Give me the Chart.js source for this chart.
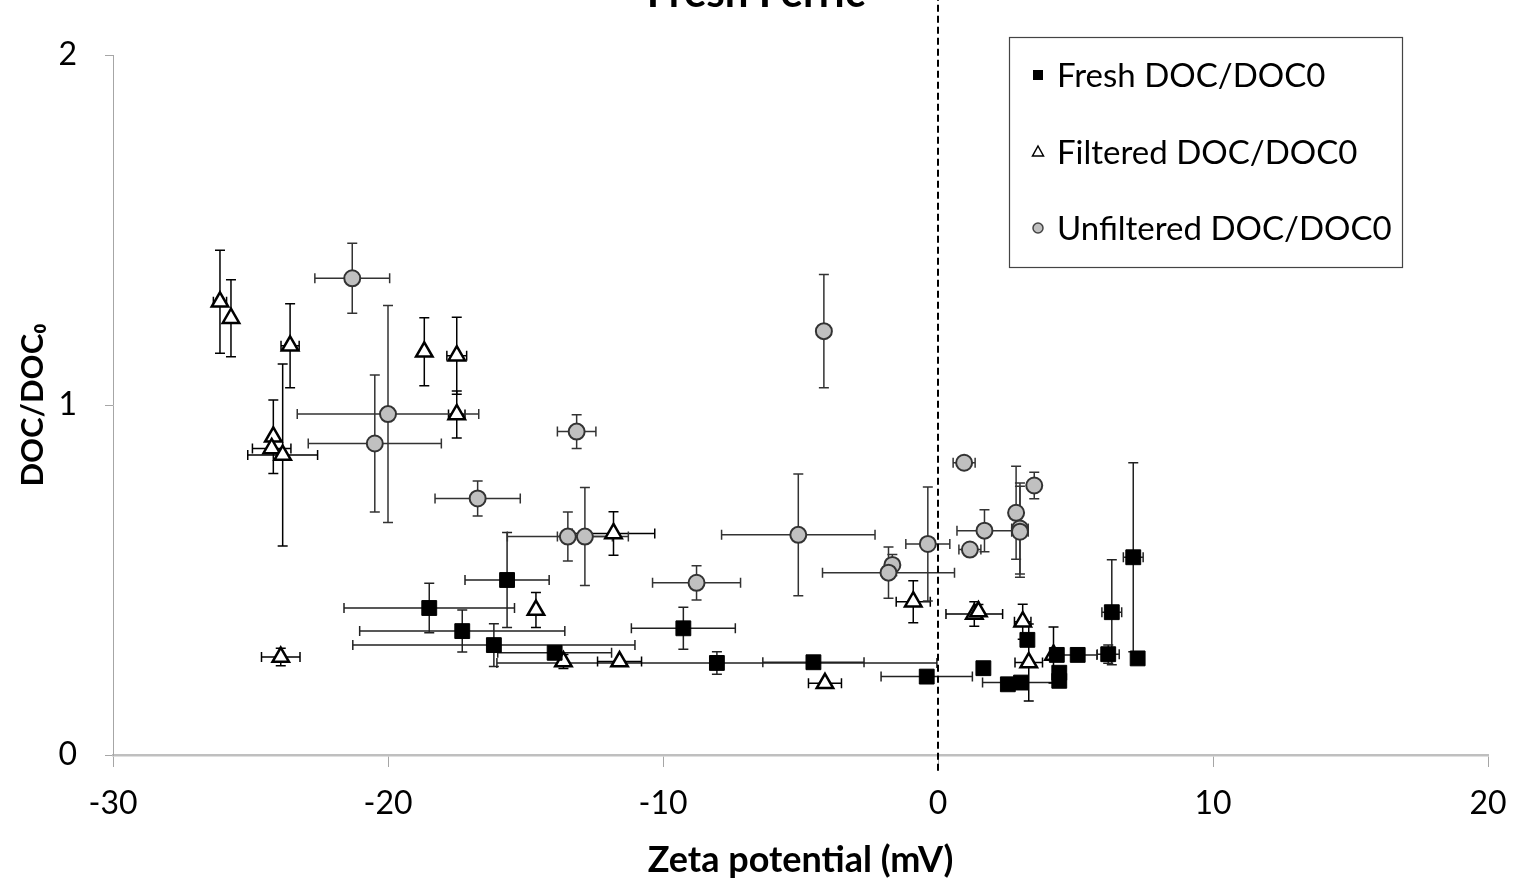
<!DOCTYPE html>
<html lang="en">
<head>
<meta charset="UTF-8">
<title>Fresh Ferric</title>
<style>
  html, body { margin: 0; padding: 0; background: #fff; overflow: hidden; }
  #wrap { width: 1513px; height: 878px; position: relative; }
</style>
</head>
<body>
<div id="wrap">
  <canvas id="myChart" width="1513" height="878"></canvas>
</div>
<script src="https://cdn.jsdelivr.net/npm/chart.js@4.4.1/dist/chart.umd.min.js"></script>
<script>
// Fresh DOC/DOC0 (black squares)
var freshX    = [-18.5, -17.3, -16.15, -15.67, -13.94, -9.26, -8.04, -4.53, -0.41, 1.65, 2.54, 3.02, 3.25, 4.32, 4.41, 4.41, 5.08, 6.19, 6.32, 7.1, 7.26];
var freshY    = [0.42, 0.354, 0.314, 0.50, 0.292, 0.362, 0.263, 0.265, 0.224, 0.248, 0.202, 0.207, 0.329, 0.286, 0.235, 0.212, 0.286, 0.288, 0.408, 0.565, 0.276];
var freshXErr = [3.1, 3.73, 5.13, 1.53, 2.07, 1.89, 8.0, 1.84, 1.66, 0, 0, 1.4, 0, 0, 0, 0, 0.7, 0.4, 0.36, 0.36, 0];
var freshYErr = [0.071, 0.06, 0.061, 0.136, 0.015, 0.06, 0.032, 0, 0.012, 0, 0, 0, 0, 0, 0, 0, 0, 0.026, 0.15, 0.27, 0];

// Filtered DOC/DOC0 (open triangles)
var filtX    = [-26.11, -25.71, -23.56, -18.68, -17.5, -17.5, -24.17, -24.23, -23.83, -11.8, -14.62, -13.62, -11.58, -23.9, -4.11, -0.9, 1.32, 1.47, 3.08, 3.3, 4.2];
var filtY    = [1.295, 1.248, 1.169, 1.152, 1.141, 0.973, 0.909, 0.876, 0.857, 0.633, 0.414, 0.267, 0.267, 0.28, 0.205, 0.438, 0.403, 0.41, 0.381, 0.264, 0.286];
var filtXErr = [0.24, 0, 0.33, 0, 0.36, 0.3, 0, 0.7, 1.27, 1.5, 0, 0, 0.8, 0.7, 0.6, 0.62, 1.03, 0, 0.3, 0.5, 0];
var filtYErr = [0.147, 0.11, 0.12, 0.097, 0.11, 0.067, 0.105, 0, 0.26, 0.062, 0.05, 0.02, 0, 0.025, 0, 0.06, 0.035, 0.02, 0.05, 0.11, 0.08];

// Unfiltered DOC/DOC0 (grey circles)
var unfX    = [-21.3, -20.0, -20.48, -16.74, -13.14, -13.46, -12.84, -8.78, -5.08, -4.15, -1.66, -1.8, -0.37, 0.95, 1.16, 1.69, 2.84, 2.98, 2.98, 3.5];
var unfY    = [1.362, 0.974, 0.89, 0.733, 0.924, 0.624, 0.624, 0.492, 0.629, 1.211, 0.543, 0.521, 0.603, 0.835, 0.587, 0.641, 0.692, 0.647, 0.638, 0.77];
var unfXErr = [1.36, 3.3, 2.42, 1.55, 0.7, 2.2, 1.0, 1.6, 2.79, 0, 0, 2.4, 0.8, 0.4, 0.4, 1.0, 0, 0.3, 0.3, 0];
var unfYErr = [0.1, 0.31, 0.196, 0.05, 0.048, 0.07, 0.14, 0.049, 0.174, 0.162, 0.03, 0.073, 0.163, 0, 0, 0.06, 0.133, 0.13, 0.13, 0.038];

// dashed line at zero potential
var zeroLineX = [0, 0];
var zeroLineY = [-0.045, 2.16];

var xTicks = [-30, -20, -10, 0, 10, 20];
var yTicks = [0, 1, 2];

var FONT = "Lato, 'Open Sans', sans-serif";

function pts(xs, ys) {
    return xs.map(function (v, i) { return { x: v, y: ys[i] }; });
}

// error bars drawn under the markers, through the chart scales
var errorBars = {
    id: 'errorBars',
    beforeDatasetsDraw: function (chart) {
        var ctx = chart.ctx, sx = chart.scales.x, sy = chart.scales.y;
        chart.data.datasets.forEach(function (ds) {
            if (!ds.xErr) return;
            ctx.save();
            ctx.strokeStyle = ds.errColor;
            ctx.lineWidth = 1.5;
            ds.data.forEach(function (p, j) {
                var px = sx.getPixelForValue(p.x), py = sy.getPixelForValue(p.y);
                var ex = ds.xErr[j], ey = ds.yErr[j], c = 5;
                ctx.beginPath();
                if (ex) {
                    var a = sx.getPixelForValue(p.x - ex), b = sx.getPixelForValue(p.x + ex);
                    ctx.moveTo(a, py); ctx.lineTo(b, py);
                    ctx.moveTo(a, py - c); ctx.lineTo(a, py + c);
                    ctx.moveTo(b, py - c); ctx.lineTo(b, py + c);
                }
                if (ey) {
                    var t = sy.getPixelForValue(p.y + ey), u = sy.getPixelForValue(p.y - ey);
                    ctx.moveTo(px, t); ctx.lineTo(px, u);
                    ctx.moveTo(px - c, t); ctx.lineTo(px + c, t);
                    ctx.moveTo(px - c, u); ctx.lineTo(px + c, u);
                }
                ctx.stroke();
            });
            ctx.restore();
        });
    }
};

// cut-off title and boxed legend
var extras = {
    id: 'extras',
    afterDraw: function (chart) {
        var ctx = chart.ctx;
        ctx.save();
        ctx.fillStyle = '#000';
        ctx.font = 'bold 42px ' + FONT;
        ctx.textAlign = 'center';
        ctx.textBaseline = 'alphabetic';
        ctx.fillText('Fresh Ferric', 756, 7);

        // legend
        ctx.fillStyle = '#fff';
        ctx.fillRect(1009, 37, 394, 231);
        ctx.strokeStyle = '#444';
        ctx.lineWidth = 1.2;
        ctx.strokeRect(1009.5, 37.5, 393, 230);

        var items = ['Fresh DOC/DOC0', 'Filtered DOC/DOC0', 'Unfiltered DOC/DOC0'];
        var rows = [75, 152, 228];
        ctx.font = '33px ' + FONT;
        ctx.textAlign = 'left';
        ctx.textBaseline = 'middle';
        items.forEach(function (txt, i) {
            var cy = rows[i], cx = 1038;
            ctx.lineWidth = 1.5;
            if (i === 0) {
                ctx.fillStyle = '#000';
                ctx.fillRect(cx - 5, cy - 5, 10, 10);
            } else if (i === 1) {
                ctx.beginPath();
                ctx.moveTo(cx, cy - 6); ctx.lineTo(cx + 5.5, cy + 4); ctx.lineTo(cx - 5.5, cy + 4); ctx.closePath();
                ctx.fillStyle = '#fff'; ctx.fill();
                ctx.strokeStyle = '#000'; ctx.stroke();
            } else {
                ctx.beginPath();
                ctx.arc(cx, cy, 5, 0, Math.PI * 2);
                ctx.fillStyle = '#c0c0c0'; ctx.fill();
                ctx.strokeStyle = '#444'; ctx.stroke();
            }
            ctx.fillStyle = '#000';
            ctx.fillText(txt, 1057, cy + 1);
        });
        ctx.restore();
    }
};

var ctx = document.getElementById('myChart').getContext('2d');
var myChart = new Chart(ctx, {
    type: 'scatter',
    data: {
        datasets: [{
            label: 'zero',
            data: pts(zeroLineX, zeroLineY),
            showLine: true,
            borderColor: '#000',
            borderWidth: 2,
            borderDash: [7, 4],
            pointRadius: 0,
            clip: false
        }, {
            label: 'Fresh DOC/DOC0',
            data: pts(freshX, freshY),
            xErr: freshXErr, yErr: freshYErr, errColor: '#222',
            pointStyle: 'rect',
            pointRadius: 10.5,
            backgroundColor: '#000',
            borderColor: '#000',
            borderWidth: 1
        }, {
            label: 'Filtered DOC/DOC0',
            data: pts(filtX, filtY),
            xErr: filtXErr, yErr: filtYErr, errColor: '#000',
            pointStyle: 'triangle',
            pointRadius: 9.5,
            backgroundColor: '#fff',
            borderColor: '#000',
            borderWidth: 2.5
        }, {
            label: 'Unfiltered DOC/DOC0',
            data: pts(unfX, unfY),
            xErr: unfXErr, yErr: unfYErr, errColor: '#333',
            pointStyle: 'circle',
            pointRadius: 8,
            backgroundColor: '#c0c0c0',
            borderColor: '#333',
            borderWidth: 2
        }]
    },
    options: {
        responsive: false,
        animation: false,
        devicePixelRatio: 1,
        layout: { padding: { left: 0, right: 25, top: 55, bottom: 0 } },
        plugins: {
            legend: { display: false },
            tooltip: { enabled: false },
            title: { display: false }
        },
        scales: {
            x: {
                type: 'linear',
                min: -30, max: 20,
                afterBuildTicks: function (s) { s.ticks = xTicks.map(function (v) { return { value: v }; }); },
                afterFit: function (s) { s.height = 123; s.paddingLeft = 0; s.paddingRight = 0; },
                border: { color: '#bfbfbf', width: 2.5 },
                grid: { drawOnChartArea: false, drawTicks: true, tickLength: 12, color: '#a6a6a6', lineWidth: 1 },
                ticks: { color: '#000', padding: 17, maxRotation: 0, font: { family: FONT, size: 32 } },
                title: {
                    display: true, text: 'Zeta potential (mV)', color: '#000',
                    padding: { top: 0, bottom: 0 },
                    font: { family: FONT, size: 36, weight: 'bold', lineHeight: 1 }
                }
            },
            y: {
                type: 'linear',
                min: 0, max: 2,
                afterBuildTicks: function (s) { s.ticks = yTicks.map(function (v) { return { value: v }; }); },
                afterFit: function (s) { s.width = 113; s.paddingTop = 0; s.paddingBottom = 0; },
                border: { color: '#a6a6a6', width: 1 },
                grid: { drawOnChartArea: false, drawTicks: true, tickLength: 8, color: '#a6a6a6', lineWidth: 1 },
                ticks: { color: '#000', padding: 28, font: { family: FONT, size: 32 } },
                title: {
                    display: true, text: 'DOC/DOC\u2080', color: '#000',
                    padding: { top: 17, bottom: 0 },
                    font: { family: FONT, size: 31, weight: 'bold', lineHeight: 1 }
                }
            }
        }
    },
    plugins: [errorBars, extras]
});
</script>
</body>
</html>
